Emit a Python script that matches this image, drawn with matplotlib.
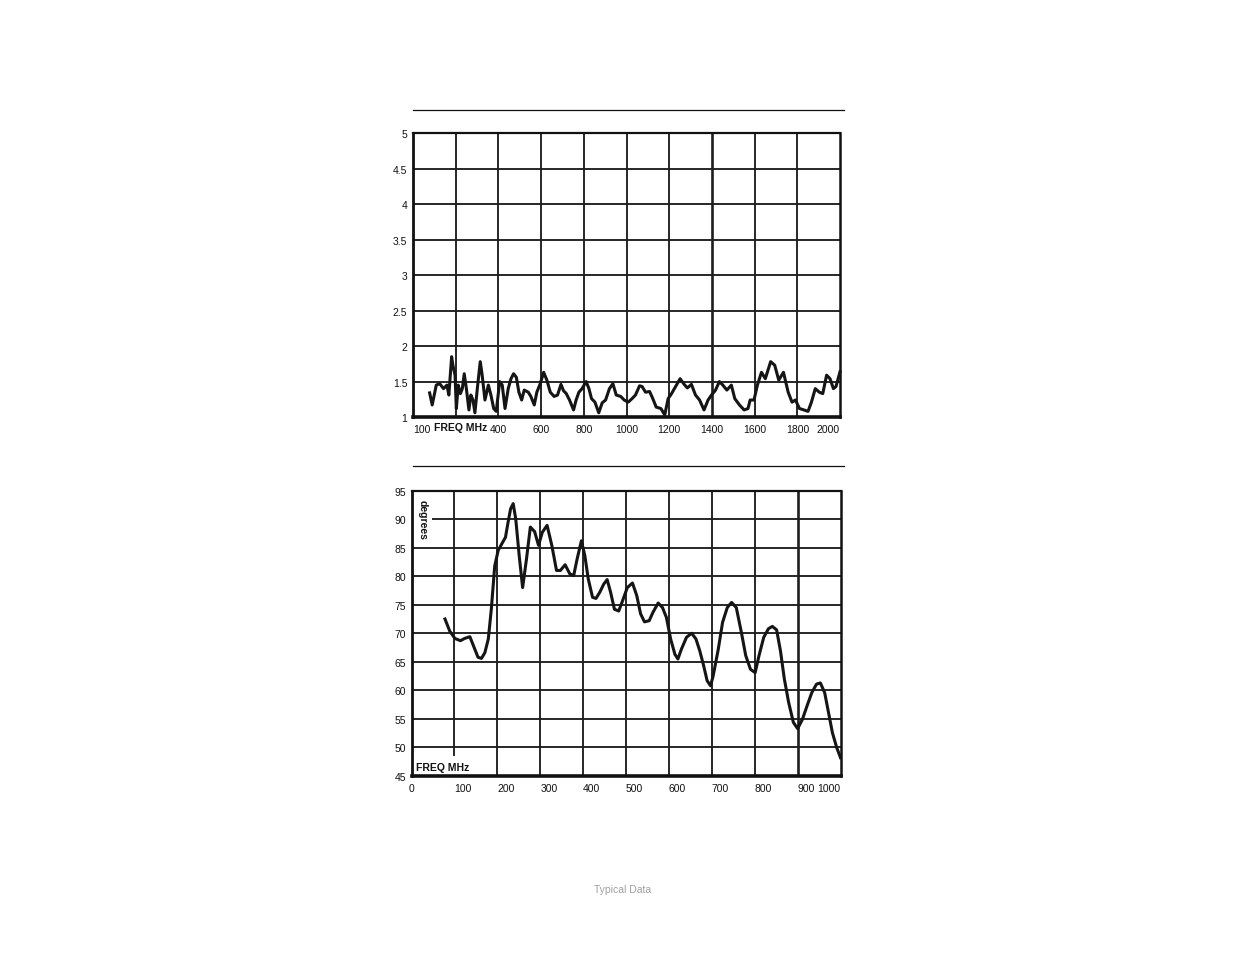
import numpy as np
import matplotlib.pyplot as plt
from matplotlib.lines import Line2D

plt.rcParams['font.family'] = ['Liberation Sans Narrow', 'Liberation Sans', 'DejaVu Sans']

# VSWR trace (top chart)
vswr_freq = [78, 90, 109, 125, 143, 159, 168, 181, 187, 197, 203, 212, 222, 231, 240,
             250, 262, 271, 281, 290, 303, 315, 324, 337, 353, 365, 378, 390, 406, 418,
             431, 446, 459, 471, 484, 496, 509, 521, 540, 552, 568, 580, 596, 612, 627,
             643, 661, 677, 693, 705, 718, 733, 752, 764, 777, 792, 811, 824, 836, 852,
             870, 886, 902, 920, 936, 952, 973, 989, 1008, 1026, 1042, 1061, 1073, 1089,
             1108, 1123, 1139, 1161, 1179, 1195, 1211, 1226, 1251, 1270, 1285, 1304, 1323,
             1342, 1363, 1382, 1398, 1417, 1435, 1451, 1470, 1491, 1507, 1529, 1551, 1569,
             1579, 1597, 1613, 1632, 1650, 1675, 1694, 1713, 1735, 1757, 1775, 1791, 1810,
             1831, 1850, 1866, 1884, 1903, 1919, 1937, 1953, 1969, 1981, 2000]
vswr = [1.34, 1.17, 1.45, 1.47, 1.40, 1.45, 1.31, 1.85, 1.73, 1.59, 1.12, 1.45, 1.33, 1.40,
        1.61, 1.40, 1.10, 1.31, 1.24, 1.06, 1.45, 1.78, 1.59, 1.24, 1.45, 1.31, 1.12, 1.08,
        1.50, 1.45, 1.12, 1.40, 1.54, 1.61, 1.56, 1.35, 1.24, 1.38, 1.35, 1.29, 1.17, 1.35,
        1.47, 1.63, 1.52, 1.35, 1.29, 1.31, 1.46, 1.37, 1.33, 1.24, 1.10, 1.24, 1.35, 1.40,
        1.50, 1.40, 1.26, 1.21, 1.06, 1.20, 1.24, 1.40, 1.47, 1.31, 1.29, 1.24, 1.21, 1.26,
        1.31, 1.44, 1.43, 1.35, 1.36, 1.26, 1.14, 1.12, 1.03, 1.26, 1.33, 1.41, 1.54, 1.46,
        1.41, 1.46, 1.31, 1.24, 1.10, 1.24, 1.31, 1.38, 1.50, 1.45, 1.38, 1.45, 1.26, 1.17,
        1.10, 1.12, 1.24, 1.24, 1.45, 1.63, 1.54, 1.78, 1.73, 1.52, 1.63, 1.35, 1.21, 1.24,
        1.12, 1.10, 1.08, 1.21, 1.40, 1.35, 1.33, 1.59, 1.54, 1.40, 1.43, 1.64]

# Phase trace (bottom chart)
phase_freq = [78, 89, 101, 114, 124, 136, 145, 155, 163, 171, 179, 186, 194, 202, 210,
              219, 225, 231, 237, 243, 251, 259, 268, 277, 287, 296, 305, 316, 327, 338,
              347, 358, 369, 378, 386, 396, 404, 412, 422, 430, 439, 448, 456, 464, 473,
              483, 492, 503, 515, 525, 534, 543, 554, 563, 575, 585, 594, 604, 614, 621,
              629, 641, 653, 663, 672, 681, 689, 697, 703, 715, 725, 736, 746, 757, 769,
              779, 790, 801, 810, 821, 832, 841, 851, 860, 869, 879, 890, 900, 911, 922,
              933, 944, 953, 963, 972, 981, 991, 1000]
phase = [72.5, 70.4, 69.1, 68.7, 69.1, 69.4, 67.7, 65.8, 65.6, 66.6, 69.0, 74.2, 81.8, 84.5,
         85.6, 86.8, 89.4, 91.8, 92.7, 90.0, 83.6, 78.0, 83.0, 88.6, 87.8, 85.4, 87.7, 88.9,
         85.4, 81.0, 81.0, 82.0, 80.4, 80.1, 83.0, 86.2, 83.6, 79.5, 76.3, 76.1, 77.2, 78.6,
         79.4, 77.2, 74.2, 73.9, 75.7, 78.0, 78.8, 76.6, 73.4, 72.0, 72.2, 73.7, 75.3, 74.5,
         72.8, 69.0, 66.3, 65.5, 67.2, 69.3, 70.0, 69.0, 66.9, 64.3, 61.7, 60.8, 62.5, 67.2,
         71.9, 74.5, 75.4, 74.5, 70.1, 66.1, 63.7, 63.1, 66.1, 69.3, 70.8, 71.2, 70.6, 66.9,
         62.0, 57.9, 54.4, 53.3, 54.9, 57.3, 59.6, 61.1, 61.3, 59.6, 56.1, 52.6, 50.0, 48.2]

vswr_xticks = list(range(0, 2001, 200))
vswr_xlabels = ['100', '', '400', '600', '800', '1000', '1200', '1400', '1600', '1800', '2000']
vswr_yticks = [1, 1.5, 2, 2.5, 3, 3.5, 4, 4.5, 5]
vswr_ylabels = ['1', '1.5', '2', '2.5', '3', '3.5', '4', '4.5', '5']
phase_xticks = list(range(0, 1001, 100))
phase_xlabels = [str(v) for v in phase_xticks]
phase_yticks = list(range(45, 96, 5))

grid_col = '#1e1e1e'
line_col = '#151515'

fig = plt.figure(figsize=(12.35, 9.54), dpi=100)

# ---- top chart: VSWR ----
ax1 = fig.add_axes([0.3344, 0.5618, 0.3458, 0.2977])
ax1.set_xlim(0, 2000)
ax1.set_ylim(1, 5)
for x in vswr_xticks[1:-1]:
    ax1.axvline(x, color=grid_col, lw=1.9 if x == 1400 else 1.35, zorder=1)
for y in vswr_yticks[1:-1]:
    ax1.axhline(y, color=grid_col, lw=1.35, zorder=1)
ax1.plot(vswr_freq, vswr, color=line_col, lw=2.2, solid_joinstyle='round', zorder=3, clip_on=False)
ax1.set_xticks(vswr_xticks)
ax1.set_xticklabels(vswr_xlabels)
ax1.set_yticks(vswr_yticks)
ax1.set_yticklabels(vswr_ylabels)
for i, lab in enumerate(ax1.get_xticklabels()):
    if i == 0:
        lab.set_ha('left')
    elif i == len(vswr_xticks) - 1:
        lab.set_ha('right')
ax1.annotate('FREQ MHz', xy=(200, 0), xycoords=('data', 'axes fraction'),
             xytext=(5, -10), textcoords='offset pixels', ha='center', va='center',
             fontsize=7.5, fontweight='bold', color='#111111')

# ---- bottom chart: phase ----
ax2 = fig.add_axes([0.3332, 0.1855, 0.3474, 0.2993])
ax2.set_xlim(0, 1000)
ax2.set_ylim(45, 95)
for x in phase_xticks[1:-1]:
    lo = 48.5 if x == 100 else 45
    ax2.vlines(x, lo, 95, color=grid_col, lw=1.9 if x == 900 else 1.35, zorder=1)
for y in phase_yticks[1:-1]:
    lo = 48 if y == 90 else 0
    ax2.hlines(y, lo, 1000, color=grid_col, lw=1.35, zorder=1)
ax2.plot(phase_freq, phase, color=line_col, lw=2.2, solid_joinstyle='round', zorder=3)
ax2.set_xticks(phase_xticks)
ax2.set_xticklabels(phase_xlabels)
ax2.set_yticks(phase_yticks)
for i, lab in enumerate(ax2.get_xticklabels()):
    if i == len(phase_xticks) - 1:
        lab.set_ha('right')
    elif i > 0:
        lab.set_ha('left')
ax2.text(0.025, 0.9, 'degrees', transform=ax2.transAxes, rotation=270, ha='center', va='center',
         fontsize=7.5, fontweight='bold', color='#111111')
ax2.text(0.01, 0.015, 'FREQ MHz', transform=ax2.transAxes, ha='left', va='bottom',
         fontsize=7.5, fontweight='bold', color='#111111')

for ax in (ax1, ax2):
    ax.tick_params(length=0, labelsize=7.5, colors='#111111')
    ax.tick_params(axis='x', pad=5)
    ax.tick_params(axis='y', pad=4)
    for side, lw in (('left', 2.0), ('right', 1.8), ('top', 1.6), ('bottom', 2.6)):
        ax.spines[side].set_linewidth(lw)
        ax.spines[side].set_color('#111111')

# separator rules above each chart
for yy in (111, 467):
    fig.add_artist(Line2D([413 / 1235, 844 / 1235], [1 - yy / 954, 1 - yy / 954],
                          color='#111111', lw=0.9))

fig.text(623 / 1235, 1 - 890 / 954, 'Typical Data', ha='center', va='center',
         fontsize=7.5, color='#a0a0a0', family=['Liberation Sans', 'DejaVu Sans'])

fig.savefig('out.png', dpi=100)
